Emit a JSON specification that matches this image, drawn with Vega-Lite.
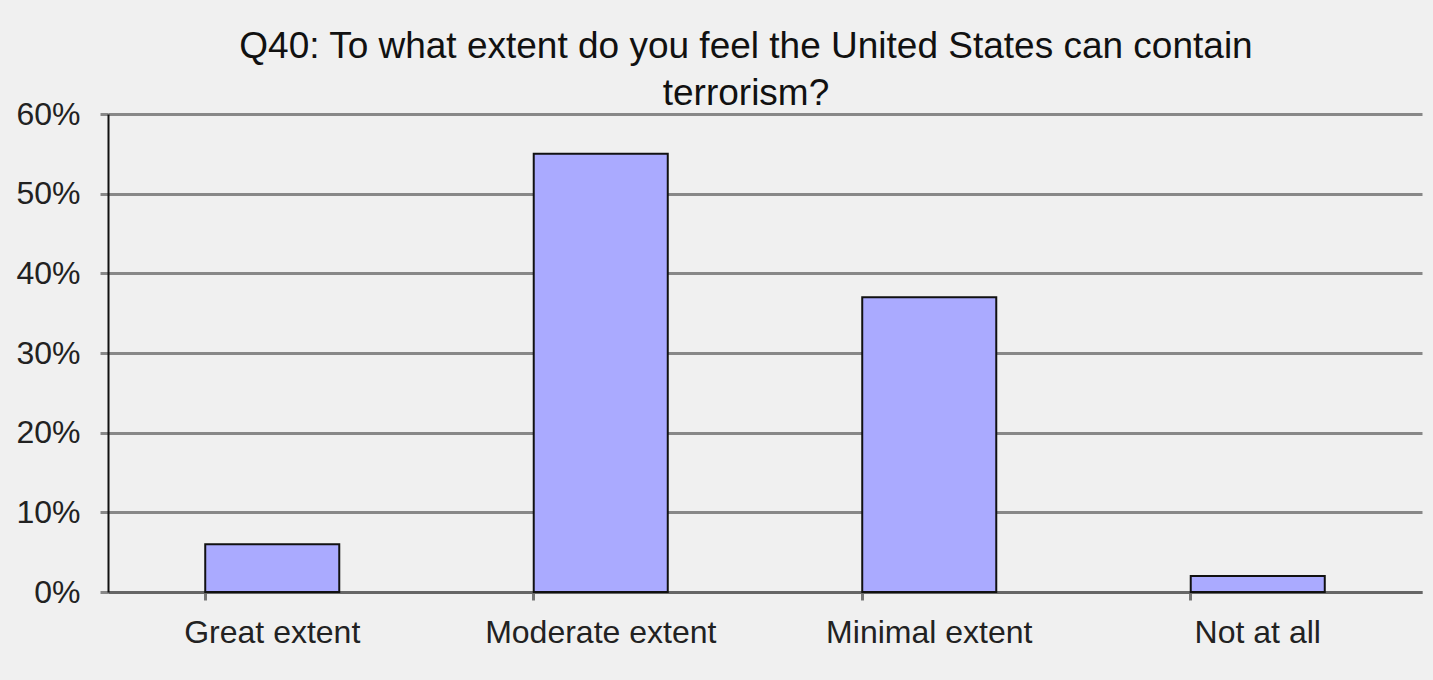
{
  "$schema": "https://vega.github.io/schema/vega-lite/v6.json",
  "autosize": {"type": "none"},
  "padding": {"left": 108, "top": 114, "right": 11, "bottom": 88},
  "width": 1314,
  "height": 478,
  "background": "#f0f0f0",
  "title": {
    "text": ["Q40: To what extent do you feel the United States can contain", "terrorism?"],
    "font": "Liberation Sans",
    "fontSize": 37,
    "fontWeight": "normal",
    "lineHeight": 47,
    "color": "#111111",
    "anchor": "middle",
    "frame": "group",
    "dx": -19,
    "baseline": "alphabetic",
    "offset": -44
  },
  "data": {
    "values": [
      {"answer": "Great extent", "pct": 0.06},
      {"answer": "Moderate extent", "pct": 0.55},
      {"answer": "Minimal extent", "pct": 0.37},
      {"answer": "Not at all", "pct": 0.02}
    ]
  },
  "mark": {"type": "bar", "fill": "#aaaaff", "stroke": "#111111", "strokeWidth": 2},
  "encoding": {
    "x": {
      "field": "answer",
      "type": "nominal",
      "sort": null,
      "scale": {"paddingInner": 0.592, "paddingOuter": 0.296},
      "axis": {
        "title": null,
        "labelAngle": 0,
        "labelLimit": 0,
        "labelFont": "Liberation Sans",
        "labelFontSize": 32,
        "labelColor": "#222222",
        "labelPadding": 17,
        "bandPosition": 0,
        "tickSize": 8,
        "tickColor": "#777777",
        "tickWidth": 3,
        "domainColor": "#666666",
        "domainWidth": 3,
        "grid": false
      }
    },
    "y": {
      "field": "pct",
      "type": "quantitative",
      "scale": {"domain": [0, 0.6], "nice": false},
      "axis": {
        "title": null,
        "values": [0, 0.1, 0.2, 0.3, 0.4, 0.5, 0.6],
        "format": ".0%",
        "labelFont": "Liberation Sans",
        "labelFontSize": 32,
        "labelColor": "#222222",
        "labelPadding": 20,
        "tickSize": 8,
        "tickColor": "#888888",
        "tickWidth": 3,
        "domainColor": "#111111",
        "domainWidth": 2,
        "grid": true,
        "gridColor": "#888888",
        "gridWidth": 3
      }
    }
  },
  "config": {"view": {"stroke": null}}
}
